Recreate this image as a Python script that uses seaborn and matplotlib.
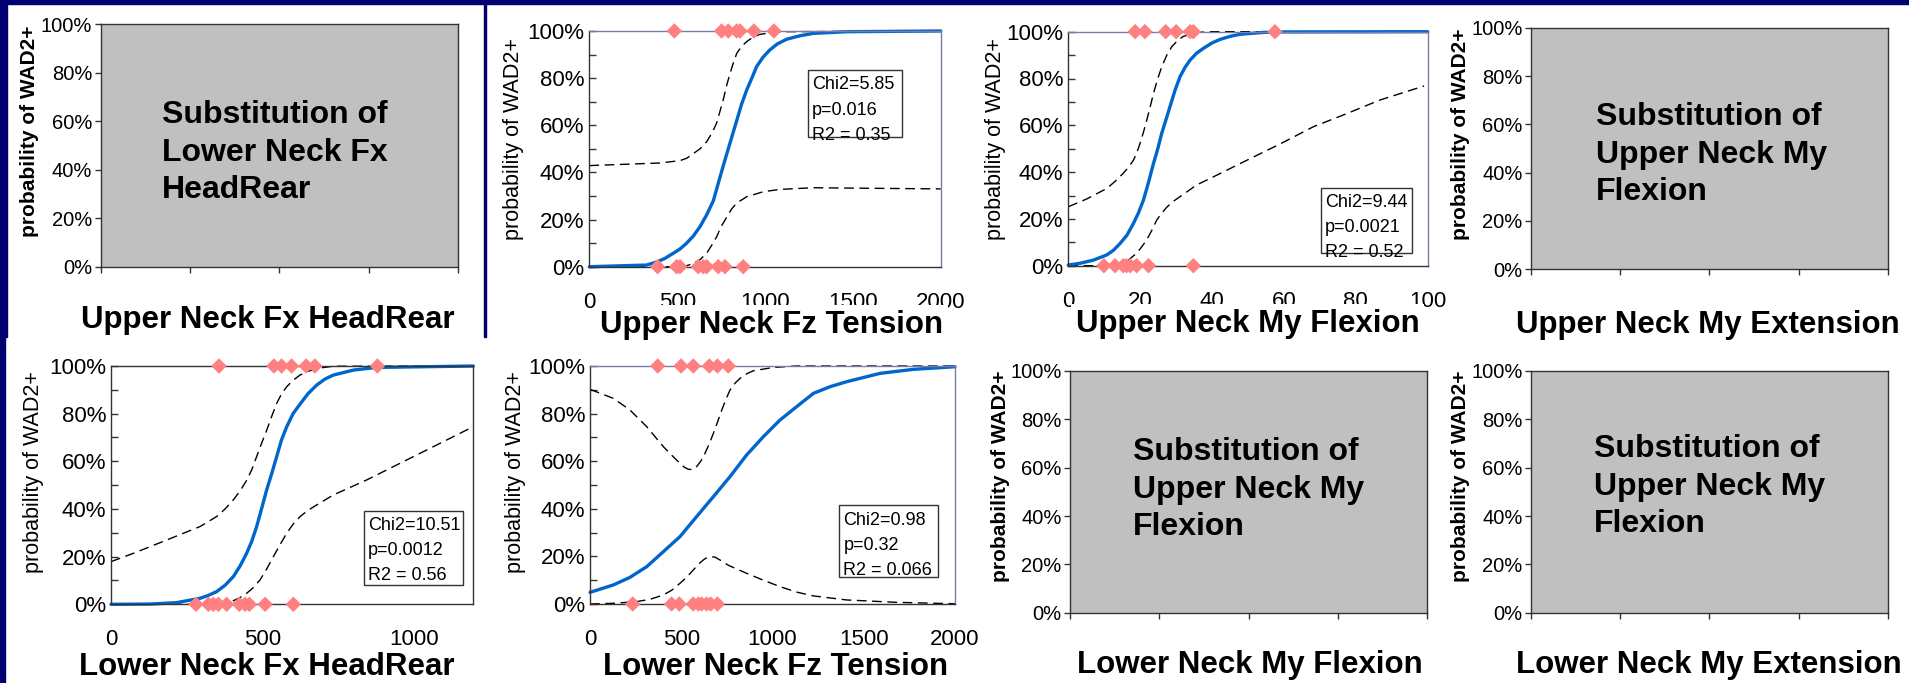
import numpy as np
import matplotlib
matplotlib.use("Agg")
import matplotlib.pyplot as plt
from matplotlib.patches import Rectangle
from matplotlib.ticker import PercentFormatter, MultipleLocator
import seaborn as sns

sns.set_style("white")
plt.rcParams["font.family"] = ["Liberation Sans", "DejaVu Sans"]
plt.rcParams.update({"text.color": "black", "axes.labelcolor": "black",
                     "xtick.color": "black", "ytick.color": "black"})

W, H = 1909, 683
NAVY = "#000070"
BLUE = "#0066cc"
PINK = "#ff8080"

pct_ticks = [0, 0.2, 0.4, 0.6, 0.8, 1.0]

# Upper Neck Fz Tension
un_fz_pos = [484, 753, 791, 839, 858, 937, 1051]
un_fz_neg = [389, 497, 516, 620, 649, 668, 734, 772, 876]
un_fz_fit_x = [0, 326, 383, 430, 478, 516, 554, 592, 630, 668, 706, 725, 744, 767, 791, 815,
               839, 867, 896, 925, 953, 990, 1028, 1070, 1123, 1200, 1275, 1465, 2000]
un_fz_fit_p = [0.0, 0.007, 0.02, 0.035, 0.057, 0.075, 0.10, 0.13, 0.17, 0.22, 0.28, 0.33, 0.38,
               0.44, 0.50, 0.56, 0.62, 0.69, 0.75, 0.80, 0.85, 0.89, 0.92, 0.945, 0.965, 0.98,
               0.99, 0.997, 1.0]
un_fz_hi_x = [0, 402, 516, 554, 592, 630, 668, 700, 725, 744, 763, 782, 801, 820, 839, 867,
              896, 934, 972, 1085, 2000]
un_fz_hi_p = [0.429, 0.44, 0.45, 0.46, 0.48, 0.50, 0.53, 0.57, 0.61, 0.66, 0.71, 0.77, 0.82,
              0.865, 0.905, 0.935, 0.955, 0.975, 0.986, 0.997, 1.0]
un_fz_lo_x = [0, 516, 554, 592, 630, 668, 700, 725, 750, 782, 810, 839, 896, 990, 1085, 1275, 2000]
un_fz_lo_p = [0.0, 0.0, 0.004, 0.014, 0.03, 0.057, 0.095, 0.127, 0.17, 0.21, 0.245, 0.27,
              0.297, 0.318, 0.328, 0.335, 0.33]

# Upper Neck My Flexion
un_my_pos = [18.6, 21.3, 27.1, 30.0, 33.9, 34.8, 57.5]
un_my_neg = [9.9, 13.0, 15.3, 16.2, 17.2, 19.0, 22.3, 34.8]
un_my_fit_x = [0, 3.2, 7.0, 10.7, 12.5, 14.4, 16.3, 18.1, 19.5, 20.9, 22.3, 23.7, 24.9, 26.0,
               27.2, 28.3, 29.7, 31.1, 32.5, 33.9, 35.7, 37.6, 40.0, 42.2, 45.0, 47.8, 54.3, 60, 100]
un_my_fit_p = [0.003, 0.01, 0.024, 0.046, 0.065, 0.095, 0.13, 0.18, 0.225, 0.28, 0.355, 0.437,
               0.50, 0.566, 0.625, 0.68, 0.75, 0.808, 0.848, 0.879, 0.908, 0.929, 0.952, 0.967,
               0.98, 0.989, 0.997, 0.999, 1.0]
un_my_hi_x = [0, 5.1, 10.7, 13.0, 15.3, 16.7, 18.1, 19.0, 19.9, 20.9, 21.8, 22.8, 23.7, 24.9,
              26.0, 27.4, 28.8, 30.4, 32.0, 35.7, 40.0, 100]
un_my_hi_p = [0.252, 0.285, 0.33, 0.36, 0.395, 0.42, 0.45, 0.48, 0.52, 0.57, 0.62, 0.68, 0.736,
              0.80, 0.85, 0.90, 0.936, 0.962, 0.98, 0.997, 1.0, 1.0]
un_my_lo_x = [0, 15.0, 16.7, 19.0, 20.4, 21.8, 23.2, 24.6, 26.0, 27.4, 29.2, 31.1, 35.7, 40.4,
              49.6, 58.9, 68.2, 77.5, 86.7, 99.0]
un_my_lo_p = [0.0, 0.0, 0.024, 0.053, 0.08, 0.11, 0.15, 0.195, 0.225, 0.25, 0.275, 0.295, 0.345,
              0.38, 0.45, 0.52, 0.594, 0.65, 0.708, 0.768]

# Lower Neck Fx HeadRear
ln_fx_pos = [356, 537, 562, 595, 643, 672, 878]
ln_fx_neg = [280, 321, 337, 354, 381, 423, 442, 456, 508, 601]
ln_fx_fit_x = [0, 129, 216, 293, 320, 348, 376, 403, 425, 447, 464, 480, 496, 513, 530, 546,
               562, 579, 600, 623, 650, 678, 705, 733, 799, 876, 1194]
ln_fx_fit_p = [0.0, 0.001, 0.007, 0.025, 0.037, 0.053, 0.08, 0.116, 0.16, 0.214, 0.265, 0.326,
               0.40, 0.48, 0.55, 0.62, 0.69, 0.745, 0.80, 0.84, 0.885, 0.92, 0.945, 0.962,
               0.983, 0.994, 1.0]
ln_fx_hi_x = [0, 74, 184, 293, 348, 376, 403, 425, 447, 464, 480, 496, 513, 530, 546, 562,
              579, 600, 623, 650, 678, 733, 1194]
ln_fx_hi_p = [0.179, 0.214, 0.27, 0.326, 0.368, 0.40, 0.438, 0.475, 0.52, 0.565, 0.62, 0.675,
              0.73, 0.79, 0.843, 0.883, 0.913, 0.94, 0.962, 0.978, 0.99, 0.999, 1.0]
ln_fx_lo_x = [0, 360, 403, 425, 447, 469, 491, 513, 535, 557, 579, 600, 623, 650, 678, 733,
              843, 953, 1063, 1187]
ln_fx_lo_p = [0.0, 0.0, 0.015, 0.028, 0.046, 0.07, 0.102, 0.148, 0.20, 0.25, 0.298, 0.336,
              0.368, 0.395, 0.417, 0.459, 0.522, 0.592, 0.662, 0.741]

# Lower Neck Fz Tension
ln_fz_pos = [371, 499, 566, 654, 698, 758]
ln_fz_neg = [234, 447, 489, 566, 594, 612, 639, 661, 698]
ln_fz_fit_x = [0, 128, 219, 311, 402, 493, 584, 676, 767, 858, 950, 1041, 1132, 1224, 1315,
               1406, 1589, 1772, 2000]
ln_fz_fit_p = [0.049, 0.08, 0.112, 0.157, 0.22, 0.283, 0.367, 0.451, 0.535, 0.626, 0.703,
               0.773, 0.829, 0.885, 0.913, 0.934, 0.969, 0.986, 0.997]
ln_fz_hi_x = [0, 128, 219, 311, 402, 448, 493, 516, 539, 562, 584, 607, 630, 653, 676, 699,
              722, 745, 767, 795, 822, 858, 895, 1005, 1132, 2000]
ln_fz_hi_p = [0.902, 0.864, 0.815, 0.745, 0.661, 0.625, 0.591, 0.575, 0.566, 0.565, 0.577,
              0.60, 0.633, 0.672, 0.717, 0.765, 0.815, 0.86, 0.899, 0.928, 0.948, 0.967, 0.98,
              0.994, 1.0, 1.0]
ln_fz_lo_x = [0, 128, 256, 330, 402, 448, 493, 530, 566, 594, 621, 640, 658, 685, 712, 760,
              858, 950, 1041, 1132, 1224, 1406, 1680, 2000]
ln_fz_lo_p = [0.0, 0.003, 0.01, 0.02, 0.038, 0.058, 0.087, 0.113, 0.143, 0.167, 0.185, 0.195,
              0.199, 0.197, 0.185, 0.162, 0.129, 0.10, 0.073, 0.05, 0.034, 0.017, 0.007, 0.001]

fig = plt.figure(figsize=(W / 100, H / 100), dpi=100)
fig.patch.set_facecolor("white")

# navy slide background bits
for x0, y0, w, h in [(0, 0, W, 4), (0, 0, 7, 337), (0, 0, 5, H), (483.5, 0, 2.5, 337)]:
    fig.patches.append(Rectangle((x0 / W, 1 - (y0 + h) / H), w / W, h / H,
                                 transform=fig.transFigure, color=NAVY, zorder=0))


def add_ax(l, t, r, b):
    return fig.add_axes([l / W, 1 - b / H, (r - l) / W, (b - t) / H])


def ftext(x, y, s, **kw):
    return fig.text(x / W, 1 - y / H, s, **kw)


def gray_panel(box, note, note_xy, xlabel, xlabel_xy, ylabel_xy):
    ax = add_ax(*box)
    ax.set_facecolor("#c0c0c0")
    ax.set_xlim(0, 4)
    ax.set_ylim(0, 1)
    ax.set_xticks([0, 1, 2, 3, 4])
    ax.set_xticklabels([])
    ax.set_yticks(pct_ticks)
    ax.yaxis.set_major_formatter(PercentFormatter(1, decimals=0))
    ax.tick_params(direction="out", length=4, width=1, color="#333333",
                   labelsize=14.5, pad=2, left=True, bottom=True)
    for s in ax.spines.values():
        s.set_color("#333333")
        s.set_linewidth(1)
    ftext(*note_xy, note, fontsize=23, fontweight="bold", ha="left", va="top",
          linespacing=1.33)
    ftext(*xlabel_xy, xlabel, fontsize=22.5, fontweight="bold", ha="center",
          va="baseline")
    ftext(*ylabel_xy, "probability of WAD2+", fontsize=15, fontweight="bold",
          rotation=90, ha="center", va="center")


def curve_panel(box, xlim, xticks, fit, hi, lo, pos, neg, stats, sbox,
                xlabel, xlabel_xy, ylabel_xy, frame="#7b7bab", cover=False):
    ax = add_ax(*box)
    ax.set_xlim(*xlim)
    ax.set_ylim(0, 1)
    for (xs, ps) in (hi, lo):
        sns.lineplot(x=xs, y=ps, ax=ax, color="black", lw=1.0,
                     estimator=None, clip_on=False)
        ax.lines[-1].set_dashes((7, 4))
    sns.lineplot(x=fit[0], y=fit[1], ax=ax, color=BLUE, lw=2.4,
                 estimator=None, clip_on=False)
    sns.scatterplot(x=pos, y=[1] * len(pos), ax=ax, marker="D", s=62,
                    color=PINK, edgecolor="none", clip_on=False, zorder=5)
    sns.scatterplot(x=neg, y=[0] * len(neg), ax=ax, marker="D", s=62,
                    color=PINK, edgecolor="none", clip_on=False, zorder=5)
    ax.set_xticks(xticks)
    ax.set_yticks(pct_ticks)
    ax.yaxis.set_minor_locator(MultipleLocator(0.1))
    ax.yaxis.set_major_formatter(PercentFormatter(1, decimals=0))
    ax.tick_params(axis="y", which="both", direction="in", length=5, width=1,
                   color="#333333", labelsize=16, pad=3.5, left=True)
    ax.tick_params(axis="x", length=0, labelsize=16, pad=18)
    ax.set_xlabel("")
    ax.set_ylabel("")
    for side, s in ax.spines.items():
        s.set_color("#333333" if side in ("left", "bottom") else frame)
        s.set_linewidth(1)
    x0, y0, x1, y1 = sbox
    ax.add_patch(Rectangle((x0, y0), x1 - x0, y1 - y0, transform=ax.transAxes,
                           facecolor="white", edgecolor="#333333", lw=1,
                           zorder=6, clip_on=False))
    ax.text(x0 + 0.012, y1 - 0.028, stats, transform=ax.transAxes, ha="left",
            va="top", fontsize=13, linespacing=1.62, zorder=7)
    kw = {}
    if cover:
        kw["bbox"] = dict(boxstyle="square,pad=0.15", fc="white", ec="none")
    ftext(*xlabel_xy, xlabel, fontsize=22.5, fontweight="bold", ha="center",
          va="baseline", zorder=10, **kw)
    ftext(*ylabel_xy, "probability of WAD2+", fontsize=15.5, rotation=90,
          ha="center", va="center")


gray_panel((100.7, 24.3, 458, 266.7), "Substitution of\nLower Neck Fx\nHeadRear",
           (162, 100), "Upper Neck Fx HeadRear", (268, 328), (30, 131))
curve_panel((589.3, 31, 940.7, 266.7), (0, 2000), [0, 500, 1000, 1500, 2000],
            (un_fz_fit_x, un_fz_fit_p), (un_fz_hi_x, un_fz_hi_p), (un_fz_lo_x, un_fz_lo_p),
            un_fz_pos, un_fz_neg, "Chi2=5.85\np=0.016\nR2 = 0.35",
            (0.622, 0.55, 0.89, 0.835), "Upper Neck Fz Tension", (771.7, 333),
            (513, 139), cover=True)
curve_panel((1068.3, 31.7, 1427.7, 265.7), (0, 100), [0, 20, 40, 60, 80, 100],
            (un_my_fit_x, un_my_fit_p), (un_my_hi_x, un_my_hi_p), (un_my_lo_x, un_my_lo_p),
            un_my_pos, un_my_neg, "Chi2=9.44\np=0.0021\nR2 = 0.52",
            (0.702, 0.053, 0.957, 0.333), "Upper Neck My Flexion", (1247.5, 331.7),
            (995, 139), cover=True)
gray_panel((1531, 27.7, 1887.7, 269.3), "Substitution of\nUpper Neck My\nFlexion",
           (1595.7, 102), "Upper Neck My Extension", (1708.3, 333), (1460, 134))
curve_panel((111, 366, 473.3, 604.3), (0, 1194), [0, 500, 1000],
            (ln_fx_fit_x, ln_fx_fit_p), (ln_fx_hi_x, ln_fx_hi_p), (ln_fx_lo_x, ln_fx_lo_p),
            ln_fx_pos, ln_fx_neg, "Chi2=10.51\np=0.0012\nR2 = 0.56",
            (0.698, 0.081, 0.972, 0.393), "Lower Neck Fx HeadRear", (266.7, 675),
            (33.3, 472.5), frame="#333333")
curve_panel((590, 366, 955, 604), (0, 2000), [0, 500, 1000, 1500, 2000],
            (ln_fz_fit_x, ln_fz_fit_p), (ln_fz_hi_x, ln_fz_hi_p), (ln_fz_lo_x, ln_fz_lo_p),
            ln_fz_pos, ln_fz_neg, "Chi2=0.98\np=0.32\nR2 = 0.066",
            (0.682, 0.112, 0.954, 0.416), "Lower Neck Fz Tension", (775.8, 675),
            (515, 471.7))
gray_panel((1070, 371, 1427.3, 612.7), "Substitution of\nUpper Neck My\nFlexion",
           (1132.7, 437), "Lower Neck My Flexion", (1250, 673.3), (1000, 476.7))
gray_panel((1531, 371, 1887.7, 612.7), "Substitution of\nUpper Neck My\nFlexion",
           (1594, 434), "Lower Neck My Extension", (1709, 673.3), (1460, 476.7))

fig.savefig("out.png", dpi=100)
